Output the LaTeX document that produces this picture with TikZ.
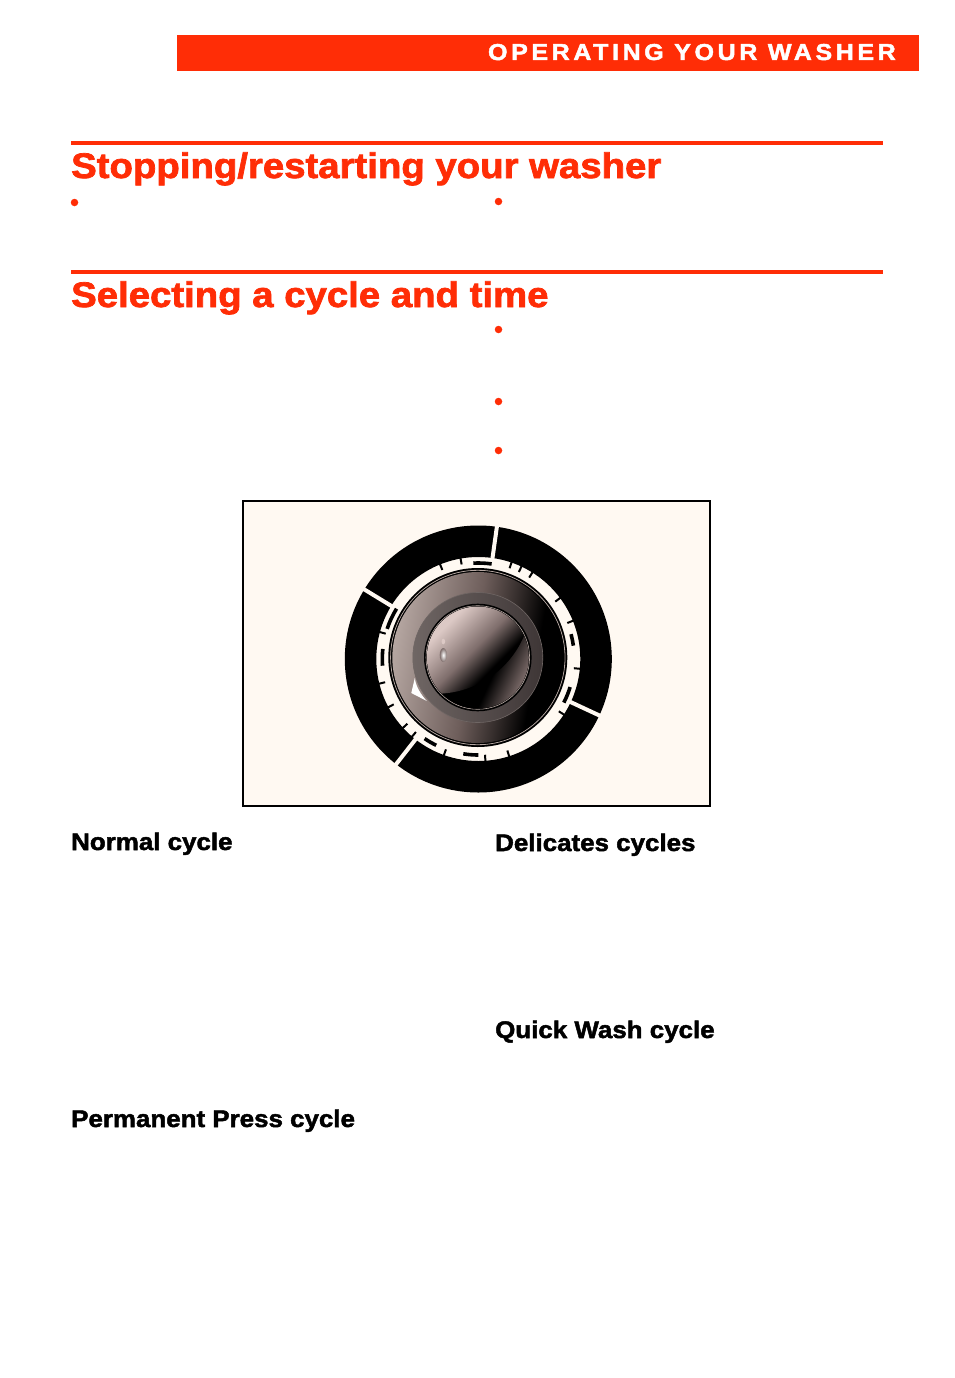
\documentclass[tikz,border=0pt]{standalone}
\usepackage{fontspec}
\setmainfont{Liberation Sans}[BoldFeatures={FakeBold=2,FakeStretch=1.08}]
\newfontfamily\bannerfont{Liberation Sans}[LetterSpace=15.5,BoldFeatures={FakeBold=2,FakeStretch=1.09}]
\usetikzlibrary{positioning}
\definecolor{washred}{HTML}{FF2D06}
\definecolor{panelcream}{HTML}{FFF9F2}
\definecolor{knobmid}{HTML}{6E5E5B}
\definecolor{knoblight}{HTML}{B5A6A1}
\definecolor{ringdark}{HTML}{3E3636}
\definecolor{ringlight}{HTML}{6F6664}
\definecolor{glasslight}{HTML}{DCC9C5}
\definecolor{glassmid}{HTML}{7F6E6C}
\pgfdeclarehorizontalshading{knobdisc}{100bp}{
    color(0bp)=(black); color(33bp)=(black);
    color(42bp)=(black!50!knobmid); color(52bp)=(knobmid); color(75bp)=(knoblight); color(100bp)=(knoblight)}
\pgfdeclarehorizontalshading{knobglass}{100bp}{
    color(0bp)=(black); color(35bp)=(black); color(48bp)=(glassmid); color(66bp)=(glasslight); color(100bp)=(glasslight)}
\pgfdeclarehorizontalshading{knobrim}{100bp}{
    color(0bp)=(black); color(60bp)=(black); color(75bp)=(glassmid); color(100bp)=(glassmid)}
\tikzset{
    headline/.style={anchor=base west, inner sep=0pt, text=washred, font=\fontsize{35.5}{40}\selectfont\bfseries},
    subhead/.style={anchor=base west, inner sep=0pt, font=\fontsize{24}{28}\selectfont\bfseries},
    bulletdot/.style={circle, fill=washred, inner sep=0pt, minimum size=7.5pt},
    rulebar/.style={fill=washred},
    dialtick/.style={line width=2pt},
    dialdash/.style={line width=3.6pt},
}
\begin{document}
\begin{tikzpicture}[x=1pt, y=-1pt]
    \useasboundingbox (0,0) rectangle (954,1378);
    \fill[white] (0,0) rectangle (954,1378);
    % banner
    \fill[washred] (177,35) rectangle (919,71);
    \node (banner) at (896,60) [anchor=base east, inner sep=0pt, text=white, font=\fontsize{23}{26}\bannerfont\bfseries] {OPERATING YOUR WASHER};
    % headings
    \fill[rulebar] (71,141) rectangle (883,145);
    \fill[rulebar] (71,270) rectangle (883,274);
    \path
        node (stopping) at (71,178) [headline] {Stopping/restarting your washer}
        node (selecting) at (71,307) [headline] {Selecting a cycle and time};
    \path
        node (dota) at (74.5,202.5) [bulletdot] {}
        node (dotb) at (498.5,201.5) [bulletdot] {}
        node (dotc) at (498.5,329.5) [bulletdot] {}
        node (dotd) at (498.5,401.5) [bulletdot] {}
        node (dote) at (498.5,450.5) [bulletdot] {};
    % dial panel
    \draw[fill=panelcream, line width=1.6pt] (243,501) rectangle (710,806);
    \begin{scope}[shift={(478.3,659)}, y=1pt]
        \fill[even odd rule] (0,0) circle[radius=133.5] (0,0) circle[radius=102];
        %\draw (0,-135) -- (0,135);
        \foreach \a in {82,148.6,232,335}
            \draw[panelcream, line width=4pt] (\a:99) -- (\a:137);
        \foreach \a in {112,100,71,65,58,36.7,22,-5.5,-33,-72.4,-86,-109.7,-130.5,-137.6,-151.8,-166,164.7}
            \draw[dialtick] (\a:103) -- (\a:96);
        \foreach \a/\b in {93/82,15/8,-17/-27,-90/-99,-116/-124,174/184,148.4/161.7}
            \draw[dialdash] (\a:96) arc[start angle=\a, end angle=\b, radius=96];
        % knob
        \begin{scope}[shift={(-0.5,1.5)}]
            \fill (0,0) circle[radius=89.5];
            \draw[color=knoblight, line width=0.8pt] (0,0) circle[radius=87.2];
            \fill[black] (0,0) circle[radius=86.4];
            \shade[shading=knobdisc, shading angle=170] (0,0) circle[radius=85.5];
            \shade[left color=ringlight, right color=ringdark, draw=ringlight, line width=0.6pt] (0,0) circle[radius=65];
            \fill (0,0) circle[radius=53.8];
            \draw[color=knoblight, line width=0.6pt] (0,0) circle[radius=51.8];
            \begin{scope}
                \clip (0,0) circle[radius=51];
                \shade[shading=knobrim, shading angle=-25] (-52,-52) rectangle (52,52);
                \shade[shading=knobglass, shading angle=135]
                    (-35,-36) .. controls (-5,-34) and (32,-16) .. (48,26)
                    -- (40,60) -- (-60,60) -- (-60,-36) -- cycle;
            \end{scope}
            % pointer and highlights
            \fill[white] (-63,-20.5) -- (-66.5,-35.5) -- (-51,-43.5) .. controls (-57,-37) and (-62,-29) .. (-63,-20.5) -- cycle;
            \fill[glasslight] (-34.5,16) ellipse[x radius=1.8, y radius=2.8];
            \shade[inner color=white, outer color=glassmid] (-34.5,2.5) ellipse[x radius=3.6, y radius=7];
        \end{scope}
    \end{scope}
    % cycle names
    \path
        node (normal) at (71,850) [subhead] {Normal cycle}
        node (delicates) at (495,851) [subhead] {Delicates cycles}
        node (quickwash) at (495,1038) [subhead] {Quick Wash cycle}
        node (permpress) at (71,1127) [subhead] {Permanent Press cycle};
\end{tikzpicture}
\end{document}
